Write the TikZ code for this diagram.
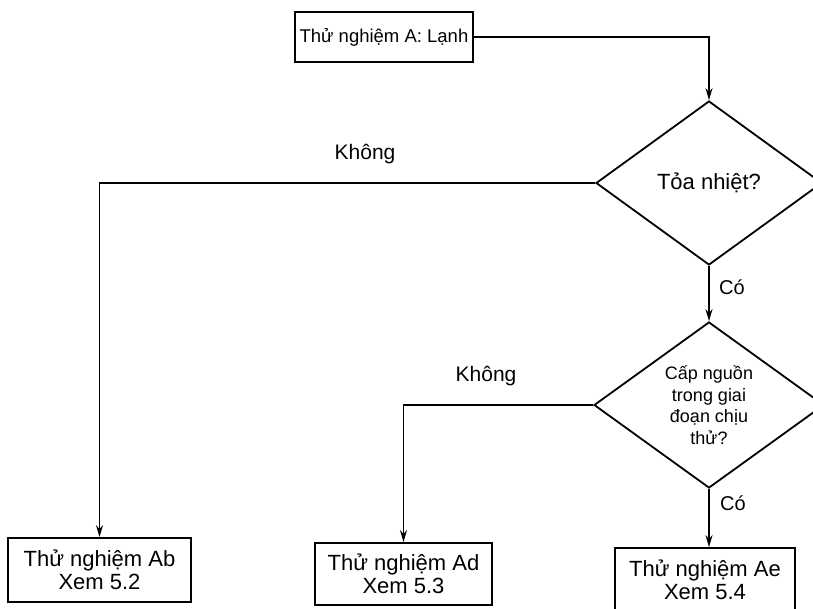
\documentclass[tikz,border=0pt]{standalone}
\usepackage{fontspec}
\setmainfont{Liberation Sans}
\usetikzlibrary{shapes.geometric,arrows.meta}
\begin{document}
\begin{tikzpicture}[x=1pt,y=-1pt,
  line width=1.8pt,
  box/.style={draw,rectangle,inner sep=0pt,align=center,font=\fontsize{22}{23}\selectfont},
  decision/.style={draw,diamond,inner sep=0pt,aspect=1.4,align=center},
  conn/.style={-{Stealth[length=12pt,width=7pt]}},
  lbl/.style={inner sep=0pt,font=\fontsize{21}{24}\selectfont}]
\useasboundingbox (0,0) rectangle (813,608);
\node[box, minimum width=178pt, minimum height=50pt, font=\fontsize{18.5}{22}\selectfont] (top) at (384,37) {Thử nghiệm A: Lạnh};
\node[decision, minimum width=226pt, minimum height=164pt, font=\fontsize{22}{24}\selectfont] (d1) at (709,183) {\raisebox{-6pt}{Tỏa nhiệt?}};
\node[decision, minimum width=230pt, minimum height=166pt, font=\fontsize{18}{21.5}\selectfont] (d2) at (709,405) {Cấp nguồn\\trong giai\\đoạn chịu\\thử?};
\node[box, minimum width=183pt, minimum height=64pt] (Ab) at (99.5,570) {Thử nghiệm Ab\\Xem 5.2};
\node[box, minimum width=177pt, minimum height=62pt] (Ad) at (403.5,574) {Thử nghiệm Ad\\Xem 5.3};
\node[box, minimum width=180pt, minimum height=64pt] (Ae) at (705,580) {Thử nghiệm Ae\\Xem 5.4};
\draw[conn] (top.east) -| (d1.north);
\draw[conn] (d1.west) -| (Ab.north);
\draw[conn] (d1.south) -- (d2.north);
\draw[conn] (d2.west) -| (Ad.north);
\draw[conn] (d2.south) -- (d2.south |- Ae.north);
\node[lbl] (no1) at (365,154) {Không};
\node[lbl] (no2) at (486,376) {Không};
\node[lbl, font=\fontsize{20}{24}\selectfont] (yes1) at (732,287) {Có};
\node[lbl, font=\fontsize{20}{24}\selectfont] (yes2) at (733,503) {Có};
\end{tikzpicture}
\end{document}
